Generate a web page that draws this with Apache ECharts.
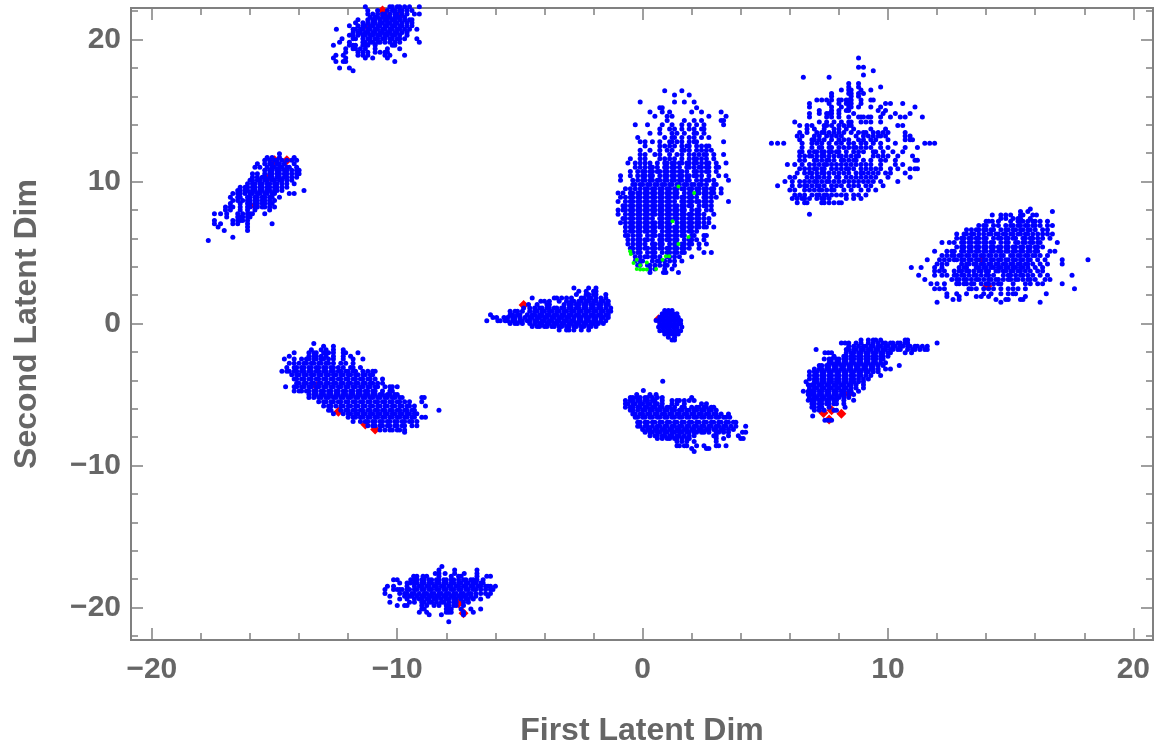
<!DOCTYPE html>
<html><head><meta charset="utf-8"><style>html,body{margin:0;background:#fff}#c{width:1156px;height:748px}</style>
<script src="https://cdn.jsdelivr.net/npm/echarts@6/dist/echarts.min.js"></script></head><body><div id="c"></div><script>
const majorX=[-20,-10,0,10,20], minorX=[-18,-16,-14,-12,-8,-6,-4,-2,2,4,6,8,12,14,16,18];
const majorY=[-20,-10,0,10,20], minorY=[-22,-18,-16,-14,-12,-8,-6,-4,-2,2,4,6,8,12,14,16,18,22];
// each row: second latent value, then the first latent values read on that row
const clusterA=[
[16.4,.9,1.6],[16.1,1.3,1.9],[15.6,-.1,1.3,1.7,2.1],[15.2,.7,.8,2.2],[14.9,.3,.8,1.1,2,2.4,3.2],[14.6,.5,1,1.2,2.7,3.4],
[14.3,1,1.7,2.1,2.4,3.2,3.3],[14,-.3,.2,.8,1.2,1.6,1.9,2.2,2.5,3.3],[13.7,.7,1.1,1.3,1.6,1.9,2.1,2.4,2.5],
[13.4,.3,.7,1.2,1.4,1.7,2.1,2.2,2.5],[13.1,-.2,.9,1.2,1.3,1.6,1.9,2.1,2.4,2.7],
[12.8,-.1,.1,.4,.7,1.1,1.2,1.4,1.6,1.9,2.1,2.2,3.3],[12.5,.1,.7,.9,1.1,1.3,1.6,1.8,1.9,2.2,2.4,2.6,2.7],
[12.2,-.1,.3,.7,1,1.2,1.6,1.7,1.9,2.2,2.4,2.6,2.8],[11.9,-.1,.1,.5,.7,1.1,1.4,1.6,1.9,2.1,2.3,2.5,2.6,2.9,3.3],
[11.6,-.5,-.1,.1,.7,.9,1.1,1.3,1.6,1.9,2.1,2.2,2.4,2.6,2.9],
[11.3,-.6,-.3,-.1,.1,.3,.6,.9,1,1.2,1.3,1.5,1.6,1.8,1.9,2.1,2.2,2.4,2.6,2.7,3,3.4],
[11,-.3,-.1,.1,.3,.4,.6,.9,1,1.2,1.3,1.5,1.8,1.9,2.1,2.3,2.4,2.6,2.7,3,3.1],
[10.7,-.5,-.2,0,.1,.3,.4,.6,.7,.9,1,1.2,1.3,1.5,1.6,1.8,2.1,2.2,2.4,2.6,2.7,3],
[10.4,-.9,-.5,-.2,0,.1,.3,.4,.7,.9,1,1.2,1.3,1.5,1.6,1.8,1.9,2.1,2.2,2.4,2.7,3.1,3.4],
[10.1,-.9,-.4,-.2,0,.1,.3,.4,.6,.7,.9,1,1.2,1.3,1.5,1.6,1.8,1.9,2.2,2.4,2.6,2.7,2.9,3.5],
[9.8,-.4,-.3,-.1,0,.2,.3,.5,.6,.8,.9,1.1,1.2,1.4,1.5,1.7,1.8,2,2.1,2.3,2.4,2.6,2.9,3],
[9.5,-.7,-.5,-.3,-.1,.1,.2,.4,.5,.7,.8,1,1.1,1.3,1.4,1.6,1.7,1.9,2,2.2,2.3,2.5,2.6,2.8,2.9,3.2],
[9.2,-1,-.8,-.5,-.4,-.2,-.1,.1,.2,.4,.5,.7,.8,1,1.1,1.3,1.4,1.7,1.9,2,2.2,2.3,2.5,2.6,2.8,2.9,3.2],
[8.9,-.9,-.7,-.5,-.4,-.2,-.1,.1,.2,.4,.5,.7,.8,1,1.1,1.3,1.4,1.6,1.7,1.9,2,2.2,2.5,2.6,2.8,3],
[8.6,-1,-.7,-.5,-.4,-.2,-.1,.1,.2,.4,.5,.7,.8,1,1.1,1.3,1.6,1.7,1.9,2,2.2,2.3,2.5,2.6,2.8,3.5],
[8.3,-.8,-.7,-.5,-.4,-.2,-.1,.1,.2,.4,.5,.7,.8,1,1.1,1.3,1.4,1.6,1.7,1.9,2,2.3,2.5,2.6,2.8],
[8,-1,-.8,-.7,-.5,-.4,-.2,-.1,.1,.2,.4,.5,.7,.8,1,1.1,1.3,1.4,1.6,1.7,2,2.2,2.3,2.6,2.8],
[7.7,-1,-.7,-.5,-.4,-.2,-.1,.1,.2,.4,.5,.7,.8,1,1.1,1.3,1.4,1.6,1.7,1.9,2,2.2,2.3,2.5,2.9],
[7.4,-.8,-.7,-.5,-.4,-.2,-.1,.1,.2,.4,.7,.8,1,1.1,1.3,1.4,1.6,1.7,1.9,2,2.2,2.3,2.5,2.7],
[7.1,-.9,-.7,-.5,-.4,-.2,-.1,.1,.2,.4,.5,.7,.8,1,1.1,1.4,1.6,1.7,1.9,2,2.2,2.3,2.5,2.7],
[6.8,-.7,-.5,-.4,-.2,-.1,.1,.2,.4,.5,.7,.8,1,1.1,1.3,1.4,1.6,1.7,1.9,2,2.2,2.3,2.5,2.6,2.9],
[6.5,-.7,-.5,-.4,-.2,-.1,.1,.2,.4,.5,.8,1,1.1,1.3,1.4,1.6,1.7,1.9,2,2.2],
[6.2,-.7,-.6,-.4,-.2,-.1,.2,.4,.5,.7,.8,1,1.1,1.3,1.4,1.6,1.7,2,2.1,2.5,2.6],
[5.9,-.6,-.4,-.2,-.1,.1,.2,.4,.7,.8,1,1.1,1.3,1.4,1.7,1.9,2,2.2,2.5],
[5.6,-.6,-.4,-.2,-.1,.1,.4,.5,.7,.8,1.1,1.3,1.4,1.6,1.7,1.9,2,2.3,2.6],
[5.3,-.5,-.4,-.2,-.1,.1,.2,.4,.5,.7,.8,1,1.1,1.3,1.4,1.6,1.7,1.9,2.3],
[5,-.4,-.2,-.1,.2,.4,.5,.8,1,1.1,1.3,1.4,1.6,1.7,2.5,2.8],
[4.7,-.3,-.1,.1,.2,.4,.5,.7,1,1.1,1.3,1.5,2],
[4.4,-.3,-.1,0,.4,.6,.7,.9,1.1,1.3,1.6],[4.1,-.2,-.1,.2,.3,.5,.7,.9,1,1.3],[3.85,.3,.5,.9,1.2],[3.6,.3,.85,.95,1.46]];
const clusterB=[
[18.7,8.8],[18.05,8.8,9],[17.8,9.4],[17.5,9],[17.35,6.55,7.6],[16.9,8.4,8.8],[16.65,8.4,8.8,9.7],[16.45,8.1,8.4,8.5,8.9,9.3],
[16.2,7.7,8.4,8.5,8.8,9],[16,7.7,8.5,8.8],[15.75,7.1,7.3,7.5,7.7,8,8.1,8.3,8.4,8.5,8.9,9.3,9.4],
[15.5,6.8,7.6,8,8.3,8.4,8.5,8.9,9.9,10.1,10.6],[15.25,6.8,7.7,8.1,8.4,8.5,8.8,9.3,9.7,11.1],
[15,7.2,7.7,8,8.3,8.4,9.6,9.9],[14.8,6.8,7.2,7.5,7.6,7.7,8,8.6,9.8,10.3,10.9],
[14.55,6.8,7.5,7.7,8,8.4,8.8,8.9,9,9.2,9.3,9.7,10.1,10.5,10.7,11.4],[14.2,6.2,7.2,7.5,7.8,8.1,8.4,8.5,8.9,9.1,9.3,9.7],
[13.95,6.4,6.7,6.9,7.4,7.5,7.7,8,8.2,8.4,8.5,10.4,10.6],[13.7,6.7,7,7.4,7.8,8,8.3,8.6,9.3,9.9],
[13.45,6.4,6.7,7.1,7.3,7.4,7.6,7.8,8,8.2,8.5,8.8,9,9.1,9.4,9.6,9.8,10,10.7],
[13.2,6.3,6.5,7,7.2,7.5,7.7,7.9,8.1,8.7,9,9.2,9.4,9.6,9.7,9.9,10.7,10.9],
[12.95,6.4,6.9,7,7.2,7.4,7.7,8,8.2,8.4,8.8,9,9.3,9.5,10,10.7,10.9,11],
[12.7,5.25,5.5,5.75,6.5,6.9,7.1,7.3,7.6,7.9,8.1,8.4,8.6,8.9,9.1,9.4,9.7,10.3,11.5,11.7,11.9],
[12.4,6.5,6.9,7.2,7.3,7.6,7.7,8,8.2,8.4,8.6,8.7,8.9,9.1,9.3,9.7,10,10.7,11.2],
[12.1,6.4,6.5,6.8,7,7.1,7.3,7.4,7.6,7.7,7.9,8,8.3,8.6,8.8,9,9.4,9.5,9.8,10.2,10.6],
[11.8,6.4,6.6,6.8,6.9,7.1,7.3,7.4,7.6,7.8,8,8.1,8.3,8.5,8.7,8.8,9.4,9.6,9.8,10,10.4,11],
[11.5,6.4,6.6,7,7.1,7.3,7.5,7.6,7.8,8.1,8.2,8.4,8.6,8.7,9,9.3,9.7,9.9,10.3,11.1,11.2],
[11.2,5.9,6.2,6.5,6.8,7,7.2,7.4,7.5,7.7,7.9,8.1,8.3,8.5,8.7,8.9,9.1,9.3,9.7,10.3,10.6],
[10.9,6.4,6.6,6.8,7,7.1,7.3,7.4,7.7,7.9,8.1,8.3,8.4,8.6,8.9,9.1,9.3,9.5,9.7,10.1,10.4,10.9,11.1,11.2],
[10.6,6.3,6.6,6.8,6.9,7.1,7.3,7.4,7.6,7.8,8,8.2,8.4,8.7,8.9,9,9.2,9.4,9.6,9.9,10.1,10.7],
[10.3,6,6.2,6.7,6.9,7.1,7.2,7.4,7.6,7.9,8,8.3,8.5,8.7,8.9,9.1,9.3,9.5,10,10.9],
[10,5.8,6.1,6.4,6.6,6.8,7,7.1,7.3,7.5,7.6,7.8,8,8.2,8.4,8.6,8.8,9,9.2,9.4,9.7,10.4],
[9.7,5.5,6.1,6.4,6.6,6.7,6.9,7.1,7.2,7.4,7.7,7.9,8.1,8.4,8.6,8.8,9.1,9.3,9.8],
[9.4,6,6.2,6.6,6.8,7,7.2,7.3,7.5,7.7,7.8,8.2,8.5,8.9,9.2,9.5],
[9.05,6.2,6.4,6.6,6.9,7.1,7.2,7.4,7.5,7.7,7.9,8.1,8.3,8.6,8.8,9.1],
[8.8,6.1,6.3,6.5,6.6,6.8,7.1,7.3,7.4,7.6,8.3,8.6,8.9],[8.5,6.3,6.6,6.7,7.3,7.4,7.6,7.8,8,8.1],[7.7,6.8]];
const clusterC=[
[8.07,15.8],[7.9,15.4,15.7,16.7],[7.65,14.25,14.6,14.8,15,15.4,15.5,15.9,16.05],[7.4,14.6,14.8,15.1,15.3,15.4,15.8],
[7.2,14,14.1,14.25,14.5,15,15.3,15.4,15.5,15.7,15.9,16,16.2,16.5],
[6.9,13.7,13.9,14,14.3,14.5,14.8,15,15.1,15.3,15.4,15.6,15.7,15.9,16,16.2,16.5,16.7],
[6.6,13.2,13.4,13.6,13.7,13.9,14,14.2,14.3,14.6,14.8,14.9,15.1,15.2,15.4,15.5,15.7,15.8,16,16.3,16.5],
[6.3,12.8,13.1,13.2,13.4,13.5,13.7,13.9,14.1,14.2,14.4,14.5,14.7,14.8,15,15.1,15.3,15.4,15.6,15.7,15.9,16.1,16.3,16.5,16.7],
[6,12.8,13,13.1,13.3,13.4,13.6,13.7,13.9,14,14.3,14.5,14.6,14.8,14.9,15.1,15.2,15.5,15.6,15.8,15.9,16.1,16.3,16.6],
[5.7,12.2,12.5,12.7,13,13.1,13.3,13.4,13.6,13.7,13.9,14,14.2,14.3,14.6,14.8,14.9,15.2,15.3,15.5,15.6,15.8,15.9,16.1,16.2,16.9],
[5.4,12.8,13,13.1,13.3,13.4,13.6,13.7,13.9,14,14.2,14.3,14.5,14.6,14.8,14.9,15.1,15.2,15.4,15.5,15.7,15.8,16,16.1,16.3],
[5.1,11.9,12.4,12.6,12.7,13,13.1,13.3,13.4,13.6,13.7,13.9,14,14.2,14.3,14.5,14.6,14.8,14.9,15.1,15.2,15.4,15.5,15.7,15.8,16,16.1,16.6,16.8],
[4.8,12.2,12.4,12.6,12.7,12.9,13,13.2,13.3,13.5,13.6,13.8,13.9,14.1,14.2,14.4,14.6,14.7,15,15.1,15.3,15.4,15.6,15.7,15.9,16,16.2,16.5],
[4.5,11.6,12.1,12.3,12.5,12.7,12.8,13,13.1,13.3,13.4,13.6,13.7,13.9,14,14.2,14.3,14.5,14.6,14.8,14.9,15.1,15.2,15.4,15.5,15.7,15.8,16.1,16.4,17.1,18.15],
[4.2,12,12.2,12.4,13,13.2,13.3,13.5,13.6,13.8,13.9,14.1,14.2,14.4,14.5,14.7,14.8,15,15.1,15.3,15.4,15.6,15.7,15.9,16.2,16.5,17.1],
[3.95,10.95,11.35,11.9,12.2,12.9,13.1,13.2,13.6,13.7,13.9,14,14.2,14.3,14.5,14.6,14.8,14.9,15.1,15.2,15.4,15.5,15.7,16,16.3],
[3.7,11.9,12.1,12.3,12.7,12.9,13,13.2,13.3,13.5,13.7,13.8,14,14.1,14.4,14.5,14.7,14.8,15,15.1,15.3,15.4,15.6,15.8,16.1,16.3],
[3.4,11.25,11.9,12.2,12.4,12.7,12.8,13,13.1,13.3,13.5,13.6,13.8,14,14.1,14.3,14.7,14.9,15,15.2,15.4,15.5,15.7,15.9,16.2,16.5,17.5],
[3.1,11.5,12.6,12.8,12.9,13.1,13.2,13.4,13.6,13.7,13.9,14.1,14.2,14.4,14.5,14.7,14.9,15,15.2,15.3,15.5,15.7,15.8,16,16.4,16.6],
[2.8,11.75,12,12.3,12.8,12.9,13.1,13.2,13.4,13.5,13.8,14,14.1,14.3,14.5,14.6,15.1,15.6,15.8,16.1,16.3,17.1],
[2.45,11.9,12.1,12.3,13.3,13.4,13.6,13.9,14.1,14.3,14.6,14.9,15.1,15.3,15.6,17.6],
[2.1,12.4,12.8,13.2,13.9,14.2,14.6,14.9,15.1,15.2,16.45],[1.9,12.4,12.9,13.6,13.8,14.1,15.6],[1.7,12.65,12.9,14.4,14.8,14.9,15.4,15.5],[1.5,12,14.6,16.2]];
const clusterD=[
[22.3,-11.3,-10.3,-10.2,-10,-9.9,-9.7,-9.5,-9.1],[22.05,-11.2,-10.8,-10.4,-10.2,-10.1,-9.9,-9.8,-9.6,-9.4],
[21.8,-11.2,-11,-10.8,-10.6,-10.5,-10.3,-10.1,-10,-9.8,-9.6,-9.3,-9.1],[21.57,-11.1,-10.9,-10.8,-10.6,-10.4,-10.3,-10.1,-10,-9.9,-9.7],
[21.4,-11.6,-11.2,-11,-10.9,-10.7,-10.5,-10.4,-10.2,-10.1,-9.9,-9.7,-9.5,-9.4],[21.18,-11.7,-11.4,-11.2,-11,-10.9,-10.7,-10.6,-10.4,-10.3,-10.1,-10,-9.8,-9.6,-9.4],
[20.97,-11.95,-11.6,-11.4,-11.3,-11.1,-11,-10.8,-10.7,-10.5,-10.4,-10.2,-10.1,-9.9,-9.8,-9.6,-9.4],
[20.73,-12.48,-11.8,-11.7,-11.5,-11.4,-11.2,-11.1,-10.9,-10.8,-10.6,-10.5,-10.3,-10.2,-10,-9.9,-9.7,-9.5,-9.2],
[20.5,-11.8,-11.6,-11.5,-11.3,-11.2,-11,-10.9,-10.7,-10.6,-10.4,-10.3,-10.1,-10,-9.8,-9.6],
[20.3,-11.95,-11.8,-11.6,-11.4,-11.3,-11.1,-11,-10.8,-10.7,-10.5,-10.4,-10.2,-10.1,-9.9,-9.6],
[20.05,-12.25,-11.8,-11.7,-11.4,-11.2,-11.1,-10.9,-10.8,-10.6,-10.5,-10.3,-10.2,-10,-9.9,-9.7,-9.2],
[19.8,-12.35,-11.95,-11.4,-11.3,-11.1,-11,-10.8,-10.7,-10.5,-10.3,-10.1,-9.9,-9.1],
[19.6,-12.6,-11.95,-11.8,-11.7,-11.4,-11.3,-11.2,-10.9,-10.2,-10.1],[19.35,-12.1,-11.8,-11.7,-11.5,-11.3,-10.9,-10.4,-9.9],
[19.1,-12.1,-11.6,-11.4,-11.2,-10.9,-10.7,-10.5,-10.4],[18.9,-12.5,-12.2,-11.6,-11.4,-11.2,-10.5,-10.3,-9.7],
[18.7,-12.6,-12.1,-11.3,-11,-10.4],[18.45,-12.5,-12.2,-12.1,-10.1],[18,-12.35,-11.95],[17.8,-11.8]];
const clusterE=[
[5.85,-17.7],[6.08,-16.7],[6.55,-17.05,-16.1],[6.8,-17.3,-16.1],[7.02,-17.45,-17.2,-16.7,-16.5,-16.1,-15.1],
[7.25,-17.45,-16.7,-16.5,-16.4,-16.3,-16.1],[7.5,-16.95,-16.5,-16.4,-16.3,-16.1,-16],[7.73,-17.45,-17.2,-16.95,-16.5,-16.3,-16.1,-16,-15.9,-15.4],
[8,-17,-16.8,-16.4,-16.1,-15.8,-15.2],[8.2,-17,-16.8,-16.7,-16.4,-16.1,-16,-15.8,-15.7,-15.5,-15.4,-15.2,-15],
[8.45,-16.8,-16.4,-16.1,-16,-15.8,-15.7,-15.5,-15.4,-15.2,-15.1],[8.67,-16.7,-16.5,-16.3,-16.1,-16,-15.8,-15.7,-15.5,-15.4,-15.2,-15],
[8.9,-16.8,-16.5,-16.4,-16.1,-16,-15.8,-15.7,-15.5,-15.4,-15.2,-15.1,-14.8],[9.15,-16.7,-16.5,-16.4,-16.2,-16,-15.9,-15.7,-15.6,-15.4,-15.3,-15.1,-15,-14.4,-14.2],
[9.37,-16.5,-16.4,-16.2,-16.1,-15.9,-15.8,-15.6,-15.5,-15.3,-15.2,-15,-14.9,-14.7,-13.8],[9.6,-16.4,-16.2,-16.1,-15.9,-15.8,-15.6,-15.5,-15.3,-15.2,-15,-14.9,-14.7,-14.5],
[9.85,-16.1,-15.9,-15.8,-15.6,-15.5,-15.3,-15.2,-15,-14.9,-14.7,-14.5,-14.2],[10.1,-16,-15.9,-15.7,-15.6,-15.4,-15.3,-15.1,-15,-14.8,-14.7,-14.5,-14.3],
[10.3,-15.9,-15.7,-15.5,-15.4,-15.2,-15.1,-14.9,-14.8,-14.6,-14.5,-14.3,-14.1],[10.55,-15.9,-15.7,-15.4,-15.2,-15.1,-14.9,-14.8,-14.6,-14.5,-14.3,-14.1,-14],
[10.8,-15.4,-15.2,-15.1,-14.9,-14.8,-14.6,-14.5,-14.3,-14.1,-14],[11,-15.8,-15.6,-15.3,-15.1,-15,-14.8,-14.7,-14.5,-14.4,-14.1],
[11.25,-15.7,-15.4,-15.2,-15.1,-14.9,-14.8,-14.6,-14.2],[11.5,-15.4,-15.2,-15,-14.9,-14.7,-14.5,-14.3,-14.1],[11.7,-15.3,-15.1,-14.8,-14.2],[11.95,-14.8]];
const clusterF=[
[2.5,-2.8,-2.2,-1.9],[2.28,-2.6,-2.3,-2,-1.9],[2.05,-2.7,-2.3,-2.2,-2,-1.9,-1.5],[1.8,-4.5,-3.6,-3.5,-3.3,-3.1,-2.9,-2.5,-2.4,-2.2,-2.1,-1.9,-1.7,-1.5],
[1.57,-4.15,-4,-3.8,-3.4,-3.1,-2.9,-2.8,-2.6,-2.5,-2.3,-2.2,-2,-1.9,-1.7,-1.6,-1.4],[1.34,-4.65,-4.3,-3.9,-3.8,-3.2,-3,-2.9,-2.7,-2.6,-2.4,-2.3,-2.1,-2,-1.8,-1.7,-1.5,-1.4],
[1.1,-4.85,-4.6,-4.4,-4.2,-4.1,-3.9,-3.8,-3.6,-3.5,-3.3,-3.2,-3,-2.9,-2.7,-2.6,-2.4,-2.3,-2.1,-2,-1.8,-1.7,-1.5,-1.3],
[.87,-5.4,-5.2,-5.1,-4.9,-4.6,-4.4,-4.3,-4.1,-4,-3.8,-3.7,-3.5,-3.4,-3.2,-3.1,-2.9,-2.8,-2.6,-2.5,-2.3,-2.2,-2,-1.9,-1.7,-1.6,-1.4,-1.3],
[.62,-6.2,-5.4,-5.3,-5.1,-5,-4.7,-4.5,-4.4,-4.2,-4.1,-3.9,-3.8,-3.6,-3.5,-3.3,-3.2,-3,-2.9,-2.7,-2.6,-2.4,-2.3,-2.1,-2,-1.8,-1.7,-1.5,-1.4],
[.42,-6.1,-5.95,-5.65,-5.5,-5.3,-5.2,-5,-4.8,-4.6,-4.5,-4.3,-4.2,-4,-3.9,-3.7,-3.6,-3.4,-3.3,-3.1,-3,-2.8,-2.6,-2.5,-2.3,-2.2,-2,-1.9,-1.7,-1.6,-1.4],
[.2,-6.35,-5.9,-5.8,-5.6,-5.5,-5.3,-5.2,-5,-4.9,-4.7,-4.6,-4.4,-4.3,-4.1,-4,-3.8,-3.7,-3.5,-3.4,-3.2,-3.1,-2.9,-2.8,-2.6,-2.5,-2.3,-2.2,-2,-1.9,-1.7,-1.5],
[0,-5.4,-5.2,-5.1,-4.9,-4.6,-4.4,-4.2,-4.1,-3.9,-3.8,-3.6,-3.5,-3.3,-3.2,-3,-2.9,-2.7,-2.6,-2.4,-2.3,-2.1,-2,-1.8,-1.6],
[-.2,-4.5,-4.3,-4.2,-4,-3.9,-3.7,-3.6,-3.4,-3.3,-3.1,-3,-2.8,-2.7,-2.5,-2.4,-2.2,-2.1,-1.9],[-.45,-3.4,-3.1,-3,-2.8,-2.5,-2.2]];
const clusterG=[
[.92,.9,1.05,1.2],[.7,.8,.95,1.1,1.25,1.4],[.45,.7,.85,1,1.15,1.3,1.45],[.21,.55,.7,.85,1,1.15,1.3,1.45,1.55],[-.02,.7,.85,1,1.15,1.3,1.45,1.55],
[-.25,.65,.8,.95,1.1,1.25,1.4,1.6],[-.5,.7,.85,1,1.15,1.3,1.45,1.55],[-.73,.9,1.05,1.2,1.35,1.45],[-.96,1.05,1.3],[-1.15,1.2,1.3]];
const clusterH=[
[-1.4,-13.4],[-1.6,-13,-12.6],[-1.85,-13.5,-13.1,-12.9,-12.6,-12.2],[-2.05,-14.2,-13.6,-13.4,-13.3,-13,-12.9,-12.8,-12.6,-12.2,-12.1,-11.6],
[-2.3,-14.4,-13.6,-13.4,-13.3,-13.1,-12.9,-12.6,-12.2,-11.9],[-2.5,-14.6,-14.2,-13.9,-13.7,-13.6,-13.4,-13.3,-13.1,-13,-12.8,-12.6,-12.2,-11.8,-11.4],
[-2.8,-14.4,-14.2,-14,-13.8,-13.7,-13.5,-13.4,-13.2,-13.1,-12.9,-12.8,-12.6,-12.3,-12.1,-11.8],
[-3.1,-14.5,-14.2,-14.1,-13.9,-13.8,-13.6,-13.5,-13.3,-13.2,-13,-12.9,-12.7,-12.6,-12.4,-12.2,-11.9,-11.8,-11.5],
[-3.35,-14.7,-14.5,-14.4,-14.2,-14.1,-13.9,-13.8,-13.6,-13.5,-13.3,-13.2,-13,-12.9,-12.7,-12.6,-12.4,-12.3,-12.1,-12,-11.8,-11.7,-11.4,-11.2,-11,-10.9],
[-3.6,-14.3,-14.1,-14,-13.8,-13.7,-13.5,-13.4,-13.2,-13.1,-12.9,-12.8,-12.6,-12.5,-12.3,-12.2,-12,-11.9,-11.7,-11.6,-11.4,-11.3,-11.1,-11],
[-3.9,-14.2,-14.1,-13.9,-13.8,-13.6,-13.5,-13.3,-13.2,-13,-12.9,-12.7,-12.6,-12.4,-12.3,-12.1,-12,-11.8,-11.7,-11.5,-11.4,-11.2,-11.1,-10.9,-10.6],
[-4.2,-14.1,-14,-13.8,-13.7,-13.5,-13.4,-13.2,-13.1,-12.9,-12.8,-12.6,-12.5,-12.3,-12.2,-12,-11.9,-11.7,-11.6,-11.4,-11.3,-11.1,-11,-10.8,-10.6],
[-4.45,-14.55,-14.2,-14.1,-13.9,-13.8,-13.6,-13.5,-13.3,-13.2,-13,-12.9,-12.7,-12.6,-12.4,-12.3,-12.1,-12,-11.8,-11.7,-11.5,-11.4,-11.2,-11.1,-10.9,-10.8,-10.5,-10.3,-10.2,-10],
[-4.75,-14.2,-14,-13.9,-13.7,-13.6,-13.4,-13.3,-13.1,-13,-12.8,-12.7,-12.5,-12.4,-12.2,-12.1,-11.9,-11.8,-11.6,-11.5,-11.3,-11.2,-11,-10.9,-10.6,-10.3,-10.2],
[-5,-13.6,-13.4,-13.3,-13.1,-13,-12.8,-12.7,-12.5,-12.4,-12.2,-12.1,-11.9,-11.8,-11.6,-11.5,-11.3,-11.2,-11,-10.9,-10.7,-10.6,-10.4,-10.3,-10.1,-10],
[-5.2,-13.6,-13.4,-13.2,-13.1,-12.9,-12.8,-12.6,-12.5,-12.3,-12.2,-12,-11.9,-11.7,-11.6,-11.4,-11.3,-11.1,-11,-10.8,-10.7,-10.5,-10.4,-10.2,-10.1,-9.9,-9.8,-9,-8.9],
[-5.5,-13.2,-13,-12.9,-12.7,-12.6,-12.4,-12.3,-12.1,-12,-11.8,-11.7,-11.5,-11.4,-11.2,-11.1,-10.9,-10.8,-10.6,-10.5,-10.3,-10.2,-10,-9.9,-9.7,-9.5,-9],
[-5.8,-13,-12.8,-12.7,-12.5,-12.3,-12.2,-12,-11.9,-11.7,-11.6,-11.4,-11.3,-11.1,-11,-10.8,-10.7,-10.5,-10.4,-10.2,-10.1,-9.9,-9.8,-9.6,-9.5,-9.3,-8.85],
[-6.1,-12.8,-12.7,-12.3,-12.1,-12,-11.8,-11.7,-11.5,-11.4,-11.2,-11.1,-10.9,-10.8,-10.6,-10.5,-10.3,-10.2,-10,-9.9,-9.7,-9.6,-9.4,-9.3,-8.3],
[-6.35,-12.6,-12.2,-12,-11.9,-11.7,-11.6,-11.4,-11.3,-11.1,-11,-10.8,-10.7,-10.5,-10.4,-10.2,-10.1,-9.9,-9.8,-9.6,-9.5,-9.3,-9.2],
[-6.6,-12,-11.8,-11.7,-11.5,-11.4,-11.2,-11.1,-10.9,-10.8,-10.6,-10.5,-10.3,-10.2,-10,-9.9,-9.7,-9.6,-9.4,-9.3,-9,-8.85],
[-6.9,-11.8,-11.5,-11.3,-11.2,-11,-10.9,-10.7,-10.6,-10.4,-10.3,-10.1,-10,-9.8,-9.7,-9.5,-9.4,-9.2],
[-7.2,-11.2,-11,-10.9,-10.7,-10.6,-10.4,-10.3,-10.1,-10,-9.8,-9.7,-9.4,-9.2],[-7.5,-10.7,-10.5,-10.3,-10.2,-10,-9.9,-9.7],[-7.65,-9.7]];
const clusterI=[
[-4.06,.82],[-4.72,.03],[-5,-.24,.3,.55],[-5.2,-.5,-.4,-.24,-.1,.1,.2,.4,.6,.8,2],
[-5.42,-.7,-.5,-.4,-.2,-.1,.1,.2,.4,.5,.8,1.2,1.4,1.5,1.7,1.9,2.1],[-5.65,-.7,-.6,-.4,-.3,-.1,0,.2,.3,.5,.6,.8,1.2,1.4,1.7,2.4,2.6],
[-5.9,-.7,-.5,-.4,-.2,-.1,.1,.2,.4,.5,.7,.8,1,1.1,1.3,1.6,1.7,2,2.2,2.3,2.5,2.6,2.8,2.9],
[-6.1,-.5,-.4,-.2,0,.1,.3,.4,.6,.7,.9,1,1.2,1.3,1.5,1.6,1.8,1.9,2.1,2.2,2.4,2.5,2.7,2.8,3],
[-6.36,-.4,-.3,-.1,0,.2,.3,.5,.6,.8,.9,1.1,1.2,1.4,1.5,1.7,1.8,2,2.1,2.3,2.4,2.6,2.7,2.9,3,3.2,3.5],
[-6.6,-.3,-.2,0,.1,.3,.4,.6,.7,.9,1,1.2,1.3,1.5,1.6,1.8,1.9,2.1,2.2,2.4,2.5,2.7,2.8,3,3.1,3.3,3.4,3.55],
[-6.95,-.2,-.1,.1,.2,.4,.5,.7,.8,1,1.1,1.3,1.4,1.6,1.7,1.9,2,2.2,2.3,2.5,2.6,2.8,2.9,3.1,3.2,3.4,3.5,3.7,3.8],
[-7.23,-.2,-.1,.1,.2,.4,.6,.7,.9,1,1.2,1.3,1.5,1.6,1.8,1.9,2.1,2.2,2.4,2.5,2.7,2.8,3,3.1,3.3,3.4,3.6,3.8,4.2],
[-7.45,0,.2,.3,.5,.6,.8,.9,1.1,1.2,1.4,1.5,1.7,1.8,2,2.1,2.3,2.4,2.6,2.7,2.9,3,3.2,3.3,3.5,3.7],
[-7.65,.1,.3,.4,.6,.7,.9,1,1.2,1.3,1.5,1.6,1.8,1.9,2.1,2.2,2.4,2.5,2.7,3,3.1,3.3,3.5,4.07,4.2],
[-7.9,.3,.5,.6,.8,.9,1.1,1.2,1.4,1.5,1.7,1.9,2.1,2.9,3,3.5,3.9],[-8.1,.6,.8,1,1.1,1.3,1.4,1.6,1.8,1.9,3,3.3,4,4.1],
[-8.3,1.4,1.6,1.8,2.1,3],[-8.6,1.4,1.5,1.7,1.8,2.2,2.5,3,3.1,3.4],[-8.8,2,2.6,2.7],[-9,2.1]];
const clusterJ=[
[-1.15,8.9,9.2,9.4,9.5,9.7,10.7,10.8],[-1.36,8.1,8.25,8.4,8.7,8.9,9.2,9.4,9.6,9.8,9.9,10.1,10.2,10.4,10.5,10.7,10.8,12],
[-1.6,8.4,8.6,8.8,9,9.1,9.3,9.4,9.6,9.7,9.9,10,10.2,10.3,10.5,10.6,10.8,10.9,11.1,11.2,11.4,11.6],
[-1.83,7.07,8.3,8.4,8.6,8.7,8.9,9,9.2,9.3,9.5,9.6,9.8,9.9,10.1,10.2,10.4,10.5,10.8,11,11.1,11.3,11.5,11.6],
[-2.06,7.43,7.57,7.7,8.3,8.5,8.6,8.8,8.9,9.1,9.2,9.4,9.5,9.7,9.8,10,10.1,10.7,10.96],
[-2.3,7.8,8.2,8.3,8.5,8.6,8.8,8.9,9.1,9.2,9.4,9.5,9.7,9.8,10],[-2.5,7.4,7.6,7.7,7.9,8,8.2,8.3,8.5,8.6,8.8,8.9,9.1,9.2,9.4,9.5,9.7,9.8],
[-2.75,7.6,7.7,7.9,8,8.2,8.3,8.5,8.6,8.8,8.9,9.1,9.2,9.4,9.5,9.7,9.9],
[-2.95,7.2,7.3,7.5,7.6,7.8,7.9,8.1,8.2,8.4,8.5,8.7,8.8,9,9.1,9.3,9.4,9.6,9.8,10.46],
[-3.2,7,7.2,7.3,7.5,7.6,7.8,7.9,8.1,8.2,8.4,8.5,8.7,8.8,9,9.1,9.3,9.4,9.6,9.9,10.1],
[-3.4,6.8,7,7.1,7.3,7.4,7.6,7.7,7.9,8,8.2,8.3,8.5,8.6,8.8,8.9,9.1,9.2,9.4,9.6],
[-3.66,6.8,7,7.1,7.3,7.4,7.6,7.7,7.9,8,8.2,8.3,8.5,8.6,8.8,8.9,9.1,9.3,9.7],
[-3.9,6.8,7,7.1,7.3,7.4,7.6,7.7,7.9,8,8.2,8.3,8.5,8.6,8.8,9,9.2],
[-4.1,6.66,7,7.1,7.3,7.4,7.6,7.7,7.9,8,8.2,8.3,8.5,8.6,8.8,9],[-4.3,6.75,6.9,7,7.2,7.3,7.5,7.6,7.8,7.9,8.1,8.2,8.4,8.5,8.7,9],
[-4.53,6.8,7,7.1,7.3,7.4,7.6,7.7,7.9,8,8.2,8.3,8.5,8.7,9],[-4.76,6.55,6.75,6.9,7,7.2,7.3,7.5,7.6,7.8,7.9,8.1,8.2,8.4,8.5,8.8],
[-5,6.75,6.9,7,7.2,7.3,7.5,7.6,7.8,7.9,8.1,8.2,8.4,8.6],[-5.2,6.8,7,7.1,7.3,7.4,7.6,7.7,7.9,8,8.2,8.4],
[-5.4,6.75,6.9,7,7.2,7.3,7.5,7.6,7.8,7.9,8.2,8.6],[-5.65,6.9,7,7.2,7.3,7.5,7.6,7.8,7.9,8.2],[-5.9,6.9,7,7.2,7.3,7.6,8.25],
[-6.1,7,7.2,7.4,7.8,7.9],[-6.5,6.93],[-6.8,7.43,7.57,7.7]];
const clusterK=[
[-17.1,-8.18],[-17.35,-8.3,-7.66,-6.75],[-17.6,-8.45,-8.3,-8.05,-7.66,-7.27,-6.75],[-17.8,-9.33,-9.2,-8.95,-8.8,-8.3,-7.8,-7.5,-7.4,-6.75,-6.35,-6.2],
[-18.03,-10.15,-10,-9.45,-9.3,-9.2,-9,-8.9,-8.7,-8.6,-8.4,-8.3,-8.1,-8,-7.8,-7.7,-7.5,-7.3,-7.2,-7,-6.9,-6.75,-6.5],
[-18.27,-9.9,-9.6,-9.45,-9.3,-9.2,-9,-8.9,-8.7,-8.6,-8.4,-8.3,-8.1,-8,-7.8,-7.7,-7.5,-7.4,-7.2,-7.1,-6.9,-6.8,-6.6,-6.5],
[-18.5,-10.4,-10.15,-9.6,-9.3,-9.1,-9,-8.8,-8.7,-8.5,-8.4,-8.2,-8.1,-7.9,-7.8,-7.6,-7.5,-7.3,-7.2,-7,-6.9,-6.7,-6.6,-6.4,-6.3,-6.2,-6],
[-18.73,-10.5,-10.15,-10,-9.9,-9.8,-9.6,-9.5,-9.3,-9.2,-9,-8.9,-8.7,-8.6,-8.4,-8.3,-8.1,-8,-7.8,-7.7,-7.5,-7.4,-7.2,-7.1,-6.9,-6.8,-6.6,-6.4,-6.2,-6.1],
[-19,-10.5,-9.9,-9.7,-9.6,-9.4,-9.3,-9.1,-8.9,-8.8,-8.6,-8.5,-8.3,-8.2,-8,-7.9,-7.7,-7.6,-7.4,-7.3,-7.1,-7,-6.8,-6.6,-6.4,-6.2],
[-19.2,-10.3,-9.7,-9.5,-9.4,-9.2,-9,-8.9,-8.7,-8.6,-8.4,-8.3,-8.1,-8,-7.8,-7.7,-7.5,-7.3,-7.2,-7,-6.8,-6.3],
[-19.4,-9.9,-9.6,-9.3,-9.1,-9,-8.8,-8.7,-8.5,-8.4,-8.2,-8,-7.9,-7.7,-7.6,-7.4,-7.2,-7.1,-6.9,-6.6],
[-19.63,-10.3,-9.5,-9.3,-9,-8.9,-8.7,-8.6,-8.4,-8.2,-8.1,-7.9,-7.7,-7.6,-7.3,-7.1],
[-19.85,-10,-9.7,-9.6,-9,-8.8,-8.5,-8.3,-8,-7.9,-7.7,-7.6,-7.3],[-20.1,-9,-8.9,-8,-7.9,-7.8,-7.4,-7,-6.6],
[-20.33,-9.1,-8.8,-8,-7.9,-7.8,-7.3,-6.9],[-20.5,-8.7,-8.2,-7.3],[-21,-7.9]];
const clusters=[clusterA,clusterB,clusterC,clusterD,clusterE,clusterF,clusterG,clusterH,clusterI,clusterJ,clusterK];
const red=[[-15.8,8.3],[-15,11.5],[-14.5,11.5],[-15.3,10.2],[-11.2,20.9],[-10.5,21.7],[-9.9,21.7],[-10.6,22.05],[-7.5,-19.7],[-7.3,-20.4],[7.37,-6.3],[7.6,-6.75],[8.1,-6.35],[7.7,-6.1],[8.4,-4.95],
[-10.9,-7.45],[-11.3,-7.1],[-4.85,1.3],[.65,.3],[13.85,4.5],[14.05,2.65],[-13.3,-4.4],[-12.4,-6.2]];
const green=[[-.51,5.1],[-.48,4.9],[-.37,4.27],[-.24,4.5],[-.24,3.85],[-.1,4.1],[-.1,3.8],[.03,3.8],[.17,3.8],[.17,4.3],[.55,3.85],[.81,4.5],[.95,4.74],[1.08,4.74],[1.46,9.65],[2.1,9.2],[1.22,7.2],[1.87,6.1],[1.46,5.6]];
const blue=clusters.flat().flatMap(([y,...xs])=>xs.map(x=>[x,y]));
const FONT='"Liberation Sans"', GRAY='#808080', TEXT='#666666';
const fmt=v=>String(v).replace('-','\u2212');
function ax(kind,pos,vals,len,label,name){
  const range=kind==='x'?{min:-20.85,max:20.8}:{min:-22.28,max:22.22};
  return {type:'value',position:pos,...range,splitLine:{show:false},
    axisLine:{show:true,onZero:false,lineStyle:{color:GRAY,width:2}},
    axisTick:{show:true,inside:true,length:len,customValues:vals,lineStyle:{color:GRAY,width:1.5}},
    axisLabel:label?{show:true,customValues:vals,formatter:fmt,margin:label,color:TEXT,fontFamily:FONT,fontWeight:'bold',fontSize:30}:{show:false},
    ...(name?{name:name[0],nameLocation:'middle',nameGap:name[1],nameTextStyle:{color:TEXT,fontFamily:FONT,fontWeight:'bold',fontSize:32}}:{})};
}
const chart=echarts.init(document.getElementById('c'),null,{renderer:'canvas'});
chart.setOption({animation:false,backgroundColor:'#fff',
 grid:{left:131,top:8,right:3,bottom:108,containLabel:false,outerBoundsMode:'none'},
 xAxis:[ax('x','bottom',majorX,12,15,['First Latent Dim',75]),ax('x','bottom',minorX,7),ax('x','top',majorX,12),ax('x','top',minorX,7)],
 yAxis:[ax('y','left',majorY,12,10,['Second Latent Dim',88]),ax('y','left',minorY,7),ax('y','right',majorY,12),ax('y','right',minorY,7)],
 series:[{type:'scatter',data:red,symbol:'diamond',symbolSize:10,itemStyle:{color:'#ff0000',opacity:1},silent:true,clip:false,z:2},
 {type:'scatter',data:blue,symbol:'circle',symbolSize:5,itemStyle:{color:'#0000ff',opacity:1},silent:true,clip:false,z:3},
 {type:'scatter',data:green,symbol:'circle',symbolSize:4,itemStyle:{color:'#00ff00',opacity:1},silent:true,z:4}]});
</script></body></html>
